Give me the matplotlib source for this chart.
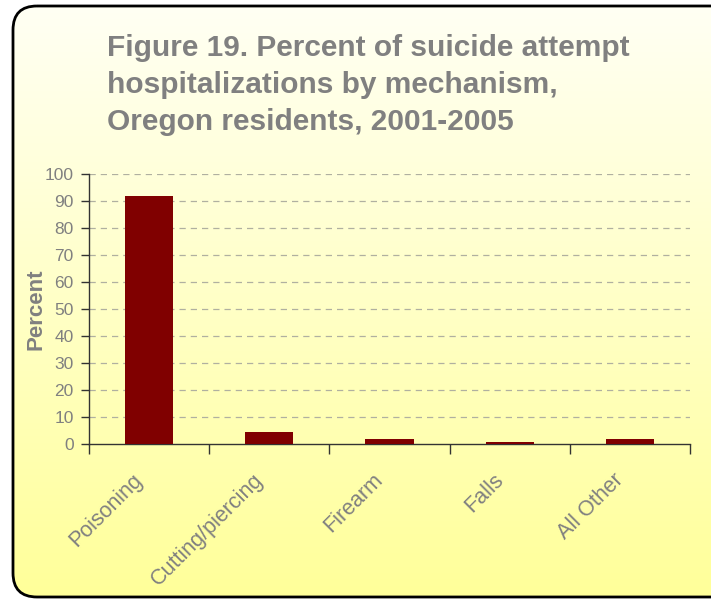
import matplotlib
matplotlib.use("Agg")
import matplotlib.pyplot as plt
import matplotlib.transforms as mtransforms
import numpy as np
from matplotlib.patches import FancyBboxPatch

categories = ["Poisoning", "Cutting/piercing", "Firearm", "Falls", "All Other"]
values = [92.0, 4.3, 1.7, 0.6, 1.7]
yticks = list(range(0, 101, 10))
title = "Figure 19. Percent of suicide attempt\nhospitalizations by mechanism,\nOregon residents, 2001-2005"

W, H = 711, 600
fig = plt.figure(figsize=(W / 100, H / 100), dpi=100)
fig.patch.set_facecolor("white")

# background with gradient inside rounded frame
bg = fig.add_axes([0, 0, 1, 1], zorder=0)
bg.set_xlim(0, W)
bg.set_ylim(H, 0)
bg.axis("off")
top = np.array([1.0, 1.0, 0.96])
bot = np.array([1.0, 1.0, 0.60])
t = np.linspace(0, 1, 256)[:, None]
grad = (top[None, :] * (1 - t) + bot[None, :] * t)[:, None, :]
im = bg.imshow(grad, extent=[0, W, H, 0], aspect="auto", zorder=0)
frame = FancyBboxPatch((13, 6), 730, 591, boxstyle="round,pad=0,rounding_size=24",
                       transform=bg.transData, facecolor="none", edgecolor="black",
                       linewidth=2.0, zorder=2)
bg.add_patch(frame)
im.set_clip_path(frame)

gray = "#808080"
fig.text(107 / W, 1 - 34 / H, title, ha="left", va="top", color=gray,
         fontsize=21.5, fontweight="bold", family="Liberation Sans", linespacing=1.42)

ax = fig.add_axes([89 / W, 1 - 443.7 / H, (690 - 89) / W, (443.7 - 174) / H], zorder=1)
ax.patch.set_alpha(0)
x = np.arange(len(categories))
ax.bar(x, values, width=0.4, color="#800000", zorder=3)
ax.set_xlim(-0.5, len(categories) - 0.5)
ax.set_ylim(0, 100)
ax.set_yticks(yticks)
ax.set_yticklabels([str(v) for v in yticks], color=gray, fontsize=12.5, family="Liberation Sans")
for yv in yticks[1:]:
    ax.axhline(yv, color="#b0b0a0", linestyle=(0, (5, 4)), linewidth=0.9, zorder=1)
ax.set_xticks(np.arange(-0.5, len(categories), 1.0))
ax.set_xticklabels([])
ax.tick_params(axis="x", length=7, width=1, color="#333333", direction="out")
ax.tick_params(axis="y", length=6, width=1, color="#333333", direction="out", pad=5)
base = mtransforms.blended_transform_factory(ax.transData, ax.transAxes)
offset = mtransforms.ScaledTranslation(-17 / 100, -26 / 100, fig.dpi_scale_trans)
for i, c in enumerate(categories):
    ax.text(i, 0, c, rotation=45, ha="right", va="top", rotation_mode="anchor",
            color=gray, fontsize=15.5, family="Liberation Sans", transform=base + offset)
for s in ["top", "right"]:
    ax.spines[s].set_visible(False)
for s in ["left", "bottom"]:
    ax.spines[s].set_color("#333333")
    ax.spines[s].set_linewidth(1.0)
ax.set_ylabel("Percent", color=gray, fontsize=16, fontweight="bold",
              family="Liberation Sans", labelpad=-1)

fig.savefig("out.png", dpi=100)
